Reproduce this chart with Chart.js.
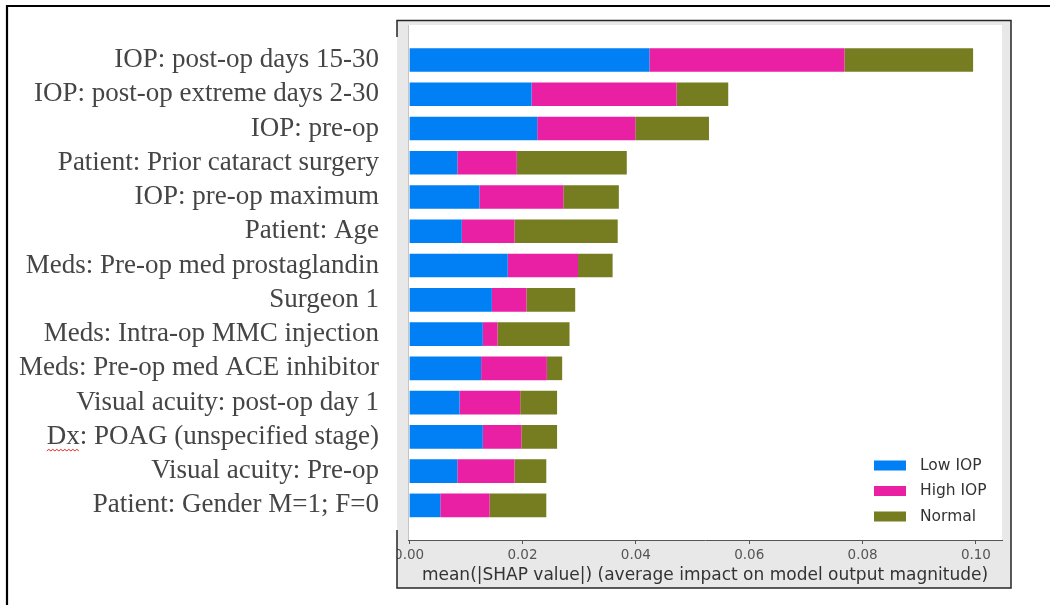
<!DOCTYPE html>
<html>
<head>
<meta charset="utf-8">
<script src="https://cdn.jsdelivr.net/npm/chart.js@4.4.1/dist/chart.umd.min.js"></script>
<style>
  html, body { margin: 0; padding: 0; background: #fff; overflow: hidden; }
  canvas { display: block; }
</style>
</head>
<body>
<canvas id="c" width="1050" height="605"></canvas>
<script>
// Feature names, top to bottom
const features = [
  'IOP: post-op days 15-30',
  'IOP: post-op extreme days 2-30',
  'IOP: pre-op',
  'Patient: Prior cataract surgery',
  'IOP: pre-op maximum',
  'Patient: Age',
  'Meds: Pre-op med prostaglandin',
  'Surgeon 1',
  'Meds: Intra-op MMC injection',
  'Meds: Pre-op med ACE inhibitor',
  'Visual acuity: post-op day 1',
  'Dx: POAG (unspecified stage)',
  'Visual acuity: Pre-op',
  'Patient: Gender M=1; F=0'
];

// mean(|SHAP value|) per class
const lowIop  = [0.0424, 0.0216, 0.0226, 0.0085, 0.0124, 0.0093, 0.0174, 0.0146, 0.0130, 0.0127, 0.0089, 0.0130, 0.0085, 0.0055];
const highIop = [0.0344, 0.0256, 0.0173, 0.0105, 0.0148, 0.0093, 0.0124, 0.0061, 0.0026, 0.0116, 0.0107, 0.0068, 0.0101, 0.0087];
const normal  = [0.0227, 0.0091, 0.0130, 0.0194, 0.0098, 0.0182, 0.0061, 0.0086, 0.0127, 0.0027, 0.0065, 0.0063, 0.0056, 0.0100];

const classNames = ['Low IOP', 'High IOP', 'Normal'];
const classColors = ['#0080f4', '#e91fa4', '#767c20'];

const xTickValues = [0, 0.02, 0.04, 0.06, 0.08, 0.10];
const xTickLabels = ['0.00', '0.02', '0.04', '0.06', '0.08', '0.10'];
const xTitle = 'mean(|SHAP value|) (average impact on model output magnitude)';

const LABEL_SIZE = 27;
const LABEL_FONT = LABEL_SIZE + 'px "Liberation Serif"';
const LABEL_PAD = 29;

// Draws the framed figure panel, the page border, the legend and the spell-check mark
const framePlugin = {
  id: 'framePlugin',
  beforeDraw(chart) {
    const ctx = chart.ctx;
    const a = chart.chartArea;
    ctx.save();
    ctx.fillStyle = '#ffffff';
    ctx.fillRect(0, 0, chart.width, chart.height);
    ctx.fillStyle = '#e8e8e8';
    ctx.fillRect(397, 20, 614, 568);
    ctx.fillStyle = '#ffffff';
    ctx.fillRect(a.left, a.top, a.right - a.left, a.bottom - a.top);
    ctx.restore();
  },
  afterDraw(chart) {
    const ctx = chart.ctx;
    const a = chart.chartArea;
    const yScale = chart.scales.y;
    ctx.save();

    // left spine
    ctx.strokeStyle = '#c4c4c4';
    ctx.lineWidth = 1;
    ctx.beginPath();
    ctx.moveTo(a.left + 0.5, a.top);
    ctx.lineTo(a.left + 0.5, a.bottom);
    ctx.stroke();

    // page area outside the figure panel
    ctx.fillStyle = '#ffffff';
    ctx.fillRect(9, 541, 388, 64);

    // figure panel edges
    ctx.strokeStyle = '#262626';
    ctx.lineWidth = 1.5;
    ctx.beginPath();
    ctx.moveTo(397, 37); ctx.lineTo(397, 20.5); ctx.lineTo(1011, 20.5);
    ctx.lineTo(1011, 588); ctx.lineTo(397, 588); ctx.lineTo(397, 530);
    ctx.stroke();

    // page border
    ctx.strokeStyle = '#000000';
    ctx.lineWidth = 2.2;
    ctx.beginPath();
    ctx.moveTo(7, 605); ctx.lineTo(7, 6); ctx.lineTo(1050, 6);
    ctx.stroke();

    // legend
    ctx.font = '15.5px "DejaVu Sans"';
    ctx.textBaseline = 'middle';
    ctx.textAlign = 'left';
    chart.data.datasets.forEach((ds, i) => {
      const cy = 465.5 + 25.5 * i;
      ctx.fillStyle = ds.backgroundColor;
      ctx.fillRect(874, cy - 5, 32, 10);
      ctx.fillStyle = '#333333';
      ctx.fillText(ds.label, 920, cy);
    });

    // wavy underline below "Dx"
    const row = features.findIndex(f => f.startsWith('Dx'));
    ctx.font = LABEL_FONT;
    const full = ctx.measureText(features[row]).width;
    const dx = ctx.measureText('Dx').width;
    const x0 = yScale.right - LABEL_PAD - full;
    const yy = yScale.getPixelForValue(row) + 14;
    ctx.strokeStyle = '#e0281e';
    ctx.lineWidth = 1;
    ctx.beginPath();
    let up = true;
    ctx.moveTo(x0, yy);
    for (let x = x0 + 2; x <= x0 + dx + 1; x += 2) {
      ctx.lineTo(x, up ? yy - 1.5 : yy);
      up = !up;
    }
    ctx.stroke();

    ctx.restore();
  }
};

const datasets = [lowIop, highIop, normal].map((vals, k) => ({
  label: classNames[k],
  data: vals.map((v, i) => ({ x: v, y: i })),
  backgroundColor: classColors[k],
  borderWidth: 0
}));

new Chart(document.getElementById('c'), {
  type: 'bar',
  data: { datasets },
  options: {
    indexAxis: 'y',
    responsive: false,
    animation: false,
    devicePixelRatio: 1,
    layout: { padding: { top: 25, right: 48, bottom: 0, left: 0 } },
    datasets: { bar: { barPercentage: 0.69, categoryPercentage: 1 } },
    plugins: { legend: { display: false }, tooltip: { enabled: false } },
    scales: {
      x: {
        type: 'linear',
        position: 'bottom',
        stacked: true,
        min: -0.0002,
        max: 0.1046,
        afterBuildTicks: s => { s.ticks = xTickValues.map(v => ({ value: v })); },
        afterFit: s => { s.height = 65; s.paddingLeft = 0; s.paddingRight = 0; },
        grid: { drawOnChartArea: false, drawTicks: true, tickLength: 4, color: '#555555', tickColor: '#555555' },
        border: { display: true, color: '#555555', width: 1 },
        ticks: {
          padding: 3,
          color: '#555555',
          font: { family: 'DejaVu Sans', size: 13.5 },
          maxRotation: 0,
          autoSkip: false,
          callback: (v, i) => xTickLabels[i]
        },
        title: {
          display: true,
          text: xTitle,
          color: '#333333',
          font: { family: 'DejaVu Sans', size: 17 },
          padding: { top: 0, bottom: 19 }
        }
      },
      y: {
        type: 'linear',
        position: 'left',
        reverse: true,
        stacked: true,
        offset: false,
        min: -1.02,
        max: 14.01,
        afterBuildTicks: s => { s.ticks = features.map((_, i) => ({ value: i })); },
        afterFit: s => { s.width = 408; s.paddingTop = 0; s.paddingBottom = 0; },
        grid: { display: false, drawTicks: false },
        border: { display: false },
        ticks: {
          padding: LABEL_PAD,
          color: '#454545',
          // single-line labels: a small line height keeps the axis from reserving end padding
          font: { family: 'Liberation Serif', size: LABEL_SIZE, lineHeight: 0.1 },
          autoSkip: false,
          callback: v => features[v]
        }
      }
    }
  },
  plugins: [framePlugin]
});
</script>
</body>
</html>
